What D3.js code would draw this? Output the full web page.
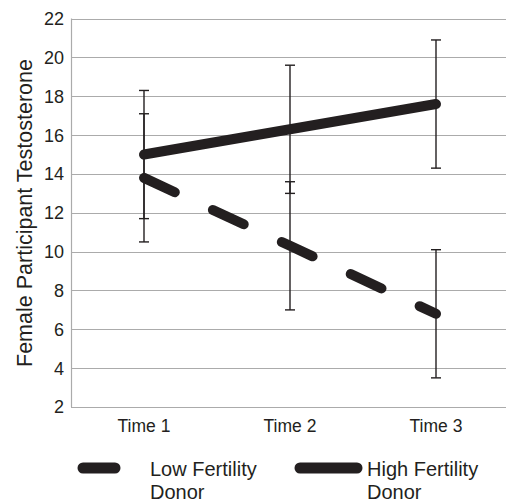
<!DOCTYPE html>
<html>
<head>
<meta charset="utf-8">
<script src="https://cdn.jsdelivr.net/npm/d3@7"></script>
<style>
  body { margin: 0; background: #fff; }
  svg { display: block; font-family: "Liberation Sans", Arial, sans-serif; }
</style>
</head>
<body>
<div id="chart"></div>
<script>
const times = ["Time 1", "Time 2", "Time 3"];
const lowFertility = [13.8, 10.3, 6.8];
const lowError = [3.3, 3.3, 3.3];
const highFertility = [15.0, 16.3, 17.6];
const highError = [3.3, 3.3, 3.3];
const yTicks = [2, 4, 6, 8, 10, 12, 14, 16, 18, 20, 22];

const width = 506;
const height = 502;
const ink = "#231f20";

const svg = d3.select("#chart")
  .append("svg")
  .attr("width", width)
  .attr("height", height);

const x = d3.scaleBand().domain(times).range([71, 509]);
const y = d3.scaleLinear().domain([2, 22]).range([407, 18.6]);
const cx = d => x(d) + x.bandwidth() / 2;

// grid
svg.append("g")
  .selectAll("line")
  .data(yTicks)
  .join("line")
  .attr("x1", 71)
  .attr("x2", 509)
  .attr("y1", d => Math.round(y(d)) + 0.5)
  .attr("y2", d => Math.round(y(d)) + 0.5)
  .attr("stroke", "#ababab")
  .attr("stroke-width", 1.2);

svg.append("line")
  .attr("x1", 71.5).attr("x2", 71.5)
  .attr("y1", y(22)).attr("y2", y(2))
  .attr("stroke", "#ababab")
  .attr("stroke-width", 1.2);

// y tick labels
svg.append("g")
  .selectAll("text")
  .data(yTicks)
  .join("text")
  .attr("x", 64)
  .attr("y", d => y(d))
  .attr("dy", "0.36em")
  .attr("text-anchor", "end")
  .attr("fill", ink)
  .style("font-size", "18px")
  .text(d => d);

// x tick labels
svg.append("g")
  .selectAll("text")
  .data(times)
  .join("text")
  .attr("x", cx)
  .attr("y", 432)
  .attr("text-anchor", "middle")
  .attr("fill", ink)
  .style("font-size", "17.5px")
  .text(d => d);

// axis title
svg.append("text")
  .attr("transform", "translate(32, 213) rotate(-90)")
  .attr("text-anchor", "middle")
  .attr("fill", ink)
  .style("font-size", "21.5px")
  .text("Female Participant Testosterone");

// error bars
function errorBars(vals, errs) {
  const g = svg.append("g").attr("stroke", ink).attr("stroke-width", 1.4);
  const rows = times.map((t, i) => ({ t, lo: vals[i] - errs[i], hi: vals[i] + errs[i] }));
  g.selectAll(".v").data(rows).join("line")
    .attr("x1", d => cx(d.t)).attr("x2", d => cx(d.t))
    .attr("y1", d => y(d.lo)).attr("y2", d => y(d.hi));
  g.selectAll(".hi").data(rows).join("line")
    .attr("x1", d => cx(d.t) - 5).attr("x2", d => cx(d.t) + 5)
    .attr("y1", d => y(d.hi)).attr("y2", d => y(d.hi));
  g.selectAll(".lo").data(rows).join("line")
    .attr("x1", d => cx(d.t) - 5).attr("x2", d => cx(d.t) + 5)
    .attr("y1", d => y(d.lo)).attr("y2", d => y(d.lo));
}
errorBars(highFertility, highError);
errorBars(lowFertility, lowError);

// lines
const line = d3.line()
  .x((d, i) => cx(times[i]))
  .y(d => y(d));

svg.append("path")
  .datum(highFertility)
  .attr("d", line)
  .attr("fill", "none")
  .attr("stroke", ink)
  .attr("stroke-width", 10)
  .attr("stroke-linecap", "round")
  .attr("stroke-linejoin", "round");

svg.append("path")
  .datum(lowFertility)
  .attr("d", line)
  .attr("fill", "none")
  .attr("stroke", ink)
  .attr("stroke-width", 10)
  .attr("stroke-linecap", "round")
  .attr("stroke-linejoin", "round")
  .attr("stroke-dasharray", "34 42");

// legend
const legend = svg.append("g");
legend.append("line")
  .attr("x1", 83).attr("x2", 115)
  .attr("y1", 468).attr("y2", 468)
  .attr("stroke", ink).attr("stroke-width", 11).attr("stroke-linecap", "round");
legend.append("line")
  .attr("x1", 300).attr("x2", 357)
  .attr("y1", 468).attr("y2", 468)
  .attr("stroke", ink).attr("stroke-width", 11).attr("stroke-linecap", "round");

const legendText = [
  { x: 150, lines: ["Low Fertility", "Donor"] },
  { x: 367, lines: ["High Fertility", "Donor"] }
];
legend.selectAll("text")
  .data(legendText)
  .join("text")
  .attr("fill", ink)
  .style("font-size", "20px")
  .selectAll("tspan")
  .data(d => d.lines.map(l => ({ x: d.x, l })))
  .join("tspan")
  .attr("x", d => d.x)
  .attr("y", (d, i) => 476 + i * 22.5)
  .text(d => d.l);
</script>
</body>
</html>
